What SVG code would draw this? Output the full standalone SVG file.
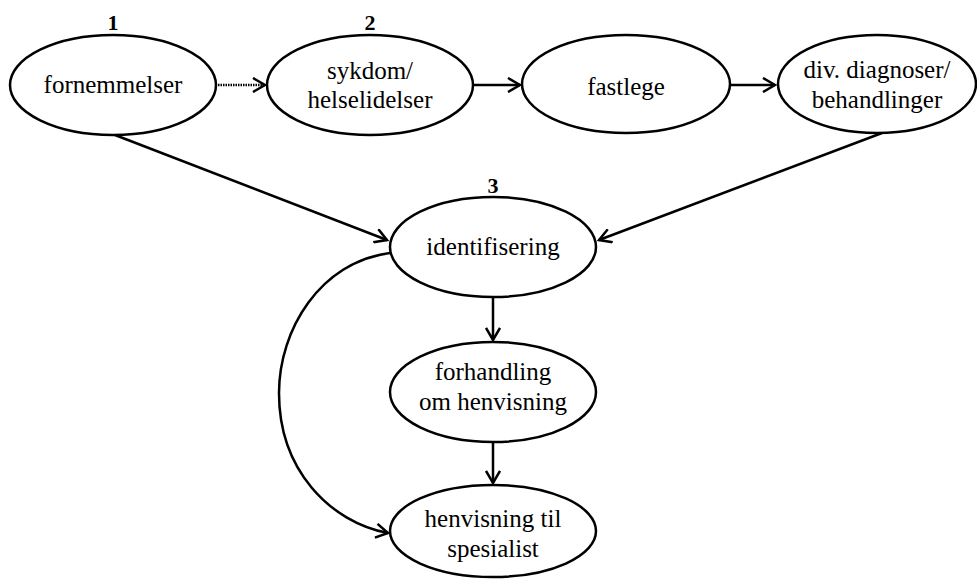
<svg xmlns="http://www.w3.org/2000/svg" width="977" height="579" viewBox="0 0 977 579">
<style>
.n ellipse{fill:#fff;stroke:#000;stroke-width:2.5}
text{font-family:'Liberation Serif','Times New Roman','DejaVu Serif',serif;fill:#000;text-anchor:middle}
.t{font-size:25px}
.num{font-size:22px;font-weight:bold}
.c path,.c line{fill:none;stroke:#000;stroke-width:2.5}
</style>
<defs>
<marker id="ah" markerWidth="16" markerHeight="16" viewBox="-14 -8 16 16" refX="0" refY="0" orient="auto" markerUnits="userSpaceOnUse">
<path d="M-12,-7 L0,0 L-12,7" fill="none" stroke="#000" stroke-width="2.5"/>
</marker>
</defs>
<rect width="977" height="579" fill="#fff"/>
<g id="connectors" class="c">
<line x1="218" y1="85" x2="265" y2="85" stroke-dasharray="1.5,1" marker-end="url(#ah)"/>
<line x1="474" y1="85" x2="520" y2="85" marker-end="url(#ah)"/>
<line x1="730" y1="85" x2="775" y2="85" marker-end="url(#ah)"/>
<line x1="115" y1="135" x2="387" y2="240" marker-end="url(#ah)"/>
<line x1="882" y1="133" x2="599" y2="240" marker-end="url(#ah)"/>
<line x1="493" y1="297" x2="493" y2="340" marker-end="url(#ah)"/>
<line x1="493" y1="442" x2="493" y2="483" marker-end="url(#ah)"/>
<path d="M390,253 C320,262 279,330 279,393 C279,470 330,522 388,533" marker-end="url(#ah)"/>
</g>
<g id="n1" class="n" font-family="Liberation Serif, serif">
<ellipse cx="113" cy="85" rx="103" ry="50"/>
<text class="num" x="113" y="30" font-family="Liberation Serif, serif">1</text>
<text class="t" x="113" y="93" font-family="Liberation Serif, serif">fornemmelser</text>
</g>
<g id="n2" class="n">
<ellipse cx="370" cy="85" rx="103" ry="50"/>
<text class="num" x="370" y="30" font-family="Liberation Serif, serif">2</text>
<text class="t" x="370" y="79" font-family="Liberation Serif, serif">sykdom/</text>
<text class="t" x="370" y="108" font-family="Liberation Serif, serif">helselidelser</text>
</g>
<g id="n3" class="n">
<ellipse cx="626" cy="84" rx="104" ry="49"/>
<text class="t" x="626" y="95" font-family="Liberation Serif, serif">fastlege</text>
</g>
<g id="n4" class="n">
<ellipse cx="877" cy="84" rx="99" ry="49"/>
<text class="t" x="877" y="78" font-family="Liberation Serif, serif">div. diagnoser/</text>
<text class="t" x="877" y="108" font-family="Liberation Serif, serif">behandlinger</text>
</g>
<g id="n5" class="n">
<ellipse cx="493" cy="247" rx="103" ry="50"/>
<text class="num" x="493" y="193" font-family="Liberation Serif, serif">3</text>
<text class="t" x="493" y="255" font-family="Liberation Serif, serif">identifisering</text>
</g>
<g id="n6" class="n">
<ellipse cx="493" cy="392" rx="103" ry="50"/>
<text class="t" x="493" y="380" font-family="Liberation Serif, serif">forhandling</text>
<text class="t" x="493" y="410" font-family="Liberation Serif, serif">om henvisning</text>
</g>
<g id="n7" class="n">
<ellipse cx="493" cy="531" rx="103" ry="46"/>
<text class="t" x="493" y="527" font-family="Liberation Serif, serif">henvisning til</text>
<text class="t" x="493" y="557" font-family="Liberation Serif, serif">spesialist</text>
</g>
</svg>
